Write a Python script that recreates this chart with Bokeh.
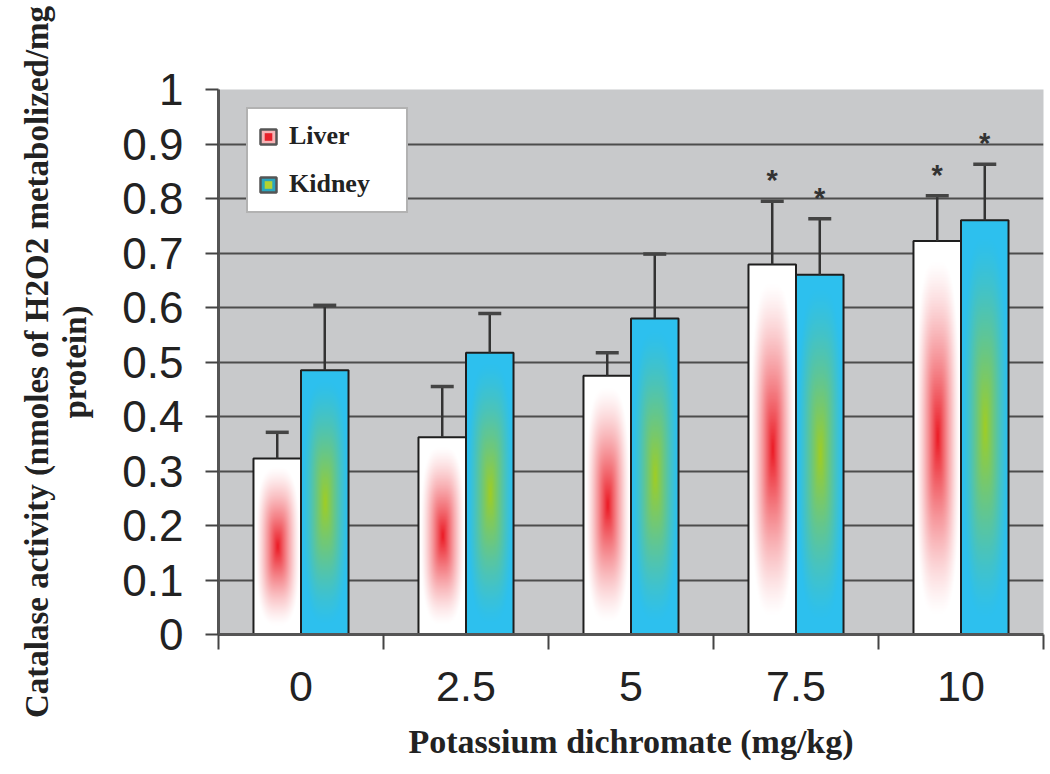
import numpy as np
from bokeh.plotting import figure
from bokeh.models import (Range1d, FixedTicker, Whisker, TeeHead, ColumnDataSource,
                          Legend, LegendItem, LinearAxis)
from bokeh.core.properties import value
from bokeh.embed import file_html
from bokeh.resources import INLINE

# ---------------- data ----------------
doses = ["0", "2.5", "5", "7.5", "10"]
liver_mean = [0.323, 0.362, 0.475, 0.679, 0.722]
liver_err = [0.048, 0.093, 0.042, 0.116, 0.083]
kidney_mean = [0.485, 0.517, 0.580, 0.660, 0.760]
kidney_err = [0.119, 0.072, 0.118, 0.103, 0.103]
liver_sig = [False, False, False, True, True]
kidney_sig = [False, False, False, True, True]
y_ticks = [0, 0.1, 0.2, 0.3, 0.4, 0.5, 0.6, 0.7, 0.8, 0.9, 1]
y_tick_labels = ["0", "0.1", "0.2", "0.3", "0.4", "0.5", "0.6", "0.7", "0.8", "0.9", "1"]
series_names = ["Liver", "Kidney"]
x_title = "Potassium dichromate (mg/kg)"
y_title_1 = "Catalase activity (nmoles of H2O2 metabolized/mg"
y_title_2 = "protein)"

# ---------------- styling ----------------
BAR_W = 0.288
BG = "#c8c9cb"
GRID = "#4d4d4d"
DARK = "#222222"
SERIF = "Liberation Serif"
SANS = "Liberation Sans"


def gradient_rgba(center, edge, rows=260, cols=48, reach=0.9, gamma=1.4, pw=3.0):
    center = np.array(center, dtype=float)
    edge = np.array(edge, dtype=float)
    u = (np.arange(cols) + 0.5) / cols * 2 - 1
    v = (np.arange(rows) + 0.5) / rows * 2 - 1
    U, V = np.meshgrid(u, v)
    r = (np.abs(U) ** pw + np.abs(V) ** pw) ** (1.0 / pw)
    w = np.clip(1 - r / reach, 0, 1) ** gamma
    rgb = edge[None, None, :] * (1 - w[..., None]) + center[None, None, :] * w[..., None]
    img = np.empty((rows, cols), dtype=np.uint32)
    view = img.view(dtype=np.uint8).reshape((rows, cols, 4))
    view[..., :3] = np.clip(rgb.round(), 0, 255).astype(np.uint8)
    view[..., 3] = 255
    return img


n = len(doses)
centers = np.arange(n) + 0.5
liver_x = centers - BAR_W / 2
kidney_x = centers + BAR_W / 2

liver_img = gradient_rgba((235, 25, 35), (255, 255, 255), gamma=1.3)
kidney_img = gradient_rgba((160, 205, 35), (45, 192, 238), reach=0.92, gamma=1.3)

p = figure(width=1048, height=772, output_backend="svg", toolbar_location=None,
           x_range=Range1d(0, n), y_range=Range1d(0, 1),
           min_border_left=218, min_border_right=5, min_border_top=89, min_border_bottom=138,
           background_fill_color=BG, border_fill_color="white", outline_line_color=None)

for xs, means, errs, sig, img in [
    (liver_x, liver_mean, liver_err, liver_sig, liver_img),
    (kidney_x, kidney_mean, kidney_err, kidney_sig, kidney_img),
]:
    src = ColumnDataSource(dict(
        x=list(xs), left=list(xs - BAR_W / 2), mean=means,
        upper=[m + e for m, e in zip(means, errs)],
        img=[img] * n, y0=[0] * n, dw=[BAR_W] * n,
    ))
    p.image_rgba(image="img", x="left", y="y0", dw="dw", dh="mean", source=src)
    p.vbar(x="x", top="mean", width=BAR_W, source=src, fill_color=None,
           line_color="#1e1e1e", line_width=2)
    wh = Whisker(source=src, base="x", lower="mean", upper="upper", dimension="height",
                 line_color="#333333", line_width=2.5,
                 upper_head=TeeHead(size=23, line_width=3.5, line_color="#444444"),
                 lower_head=None, level="annotation")
    p.add_layout(wh)
    sx = [x for x, s in zip(xs, sig) if s]
    sy = [m + e for m, e, s in zip(means, errs, sig) if s]
    p.text(x=sx, y=sy, text=["*"] * len(sx), text_align="center", text_baseline="middle",
           y_offset=-21, text_font=value(SANS), text_font_style="bold",
           text_font_size="29px", text_color="#333333")

# grid
p.xgrid.grid_line_color = None
p.ygrid.ticker = FixedTicker(ticks=y_ticks)
p.ygrid.grid_line_color = GRID
p.ygrid.grid_line_width = 2

# y axis
ya = p.yaxis[0]
ya.ticker = FixedTicker(ticks=y_ticks)
ya.major_label_overrides = dict(zip(y_ticks, y_tick_labels))
ya.major_label_text_font = SANS
ya.major_label_text_font_size = "44px"
ya.major_label_text_color = DARK
ya.major_label_standoff = 22
ya.major_tick_out = 13
ya.major_tick_in = 0
ya.major_tick_line_color = "#444444"
ya.major_tick_line_width = 2
ya.minor_tick_line_color = None
ya.axis_line_color = "#555555"
ya.axis_line_width = 3
ya.axis_label = y_title_2
ya.axis_label_text_font = SERIF
ya.axis_label_text_font_style = "bold"
ya.axis_label_text_font_size = "33px"
ya.axis_label_text_color = DARK
ya.axis_label_standoff = 26

ya2 = LinearAxis(ticker=FixedTicker(ticks=[]), axis_line_color=None,
                 major_tick_line_color=None, minor_tick_line_color=None,
                 major_tick_out=0, major_tick_in=0, major_label_text_font_size="0px",
                 major_label_standoff=0,
                 axis_label=y_title_1, axis_label_text_font=SERIF,
                 axis_label_text_font_style="bold", axis_label_text_font_size="33px",
                 axis_label_text_color=DARK, axis_label_standoff=0)
p.add_layout(ya2, "left")

# x axis
xa = p.xaxis[0]
xa.ticker = FixedTicker(ticks=list(centers), minor_ticks=list(range(n + 1)))
xa.major_label_overrides = dict(zip(list(centers), doses))
xa.major_label_text_font = SANS
xa.major_label_text_font_size = "43px"
xa.major_label_text_color = DARK
xa.major_label_standoff = 22
xa.major_tick_line_color = None
xa.major_tick_out = 0
xa.major_tick_in = 0
xa.minor_tick_out = 15
xa.minor_tick_in = 0
xa.minor_tick_line_color = "#444444"
xa.minor_tick_line_width = 2
xa.axis_line_color = "#555555"
xa.axis_line_width = 3
xa.axis_label = x_title
xa.axis_label_text_font = SERIF
xa.axis_label_text_font_style = "bold"
xa.axis_label_text_font_size = "34px"
xa.axis_label_text_color = DARK
xa.axis_label_standoff = 19

# legend (off-screen single points supply the swatch styles)
hidden = lambda: ColumnDataSource(dict(x=[-10], top=[0]))
lv_box = p.vbar(x="x", top="top", width=0.1, source=hidden(), fill_color="#f6b4b6",
                line_color="#555555", line_width=2.5)
lv_dot = p.scatter(x="x", y="top", source=hidden(), marker="square", size=8,
                   fill_color="#e8202a", line_color=None)
kd_box = p.vbar(x="x", top="top", width=0.1, source=hidden(), fill_color="#2aa6be",
                line_color="#555555", line_width=2.5)
kd_dot = p.scatter(x="x", y="top", source=hidden(), marker="square", size=8,
                   fill_color="#b4d232", line_color=None)

legend = Legend(items=[LegendItem(label=series_names[0], renderers=[lv_box, lv_dot]),
                       LegendItem(label=series_names[1], renderers=[kd_box, kd_dot])],
                location=(28, 421), orientation="vertical",
                background_fill_color="white", background_fill_alpha=1,
                border_line_color="#666666", border_line_width=2,
                padding=10, spacing=14, margin=0,
                glyph_width=20, glyph_height=19, label_standoff=11,
                label_height=34, label_width=107,
                label_text_font=SERIF, label_text_font_style="bold",
                label_text_font_size="26px", label_text_color=DARK)
p.add_layout(legend)

open("out.html", "w").write(file_html(p, INLINE))
